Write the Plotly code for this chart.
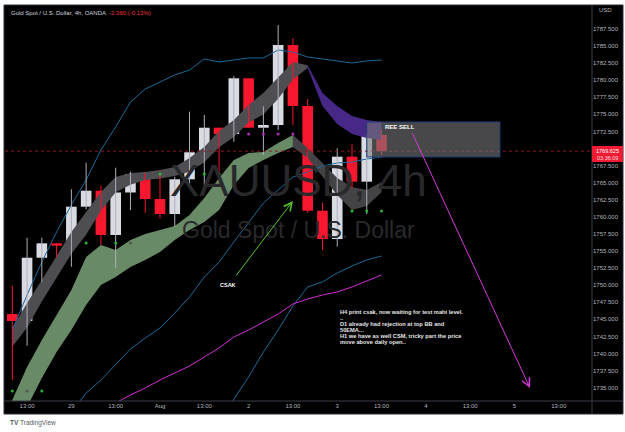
import plotly.graph_objects as go

# ---------------- data ----------------
bars = list(range(26))
opens = [1745.78, 1744.76, 1754.02, 1756.13, 1755.78, 1761.49, 1763.83, 1757.35, 1763.57, 1766.28,
         1762.62, 1760.42, 1765.50, 1769.45, 1773.05, 1772.13, 1780.28, 1773.05, 1773.45, 1785.16,
         1776.23, 1760.90, 1756.76, 1768.81, 1765.15, 1771.98]
closes = [1744.76, 1754.02, 1756.13, 1755.78, 1761.49, 1763.83, 1757.35, 1763.57, 1766.28, 1762.62,
          1760.42, 1765.50, 1769.45, 1773.05, 1772.13, 1780.28, 1773.05, 1773.45, 1785.16, 1776.23,
          1760.90, 1756.76, 1768.81, 1765.15, 1771.98, 1769.625]
highs = [1749.93, 1756.95, 1756.95, 1756.13, 1764.04, 1767.93, 1764.56, 1767.20, 1766.61, 1766.47,
         1766.28, 1765.88, 1775.40, 1774.91, 1773.05, 1780.62, 1780.28, 1776.18, 1788.09, 1786.14,
         1777.25, 1762.08, 1770.04, 1770.67, 1772.00, 1772.72]
lows = [1736.12, 1741.14, 1750.51, 1754.07, 1752.71, 1761.10, 1755.88, 1752.47, 1761.01, 1760.61,
        1759.79, 1758.56, 1764.42, 1764.42, 1765.88, 1771.00, 1773.05, 1769.06, 1772.72, 1773.45,
        1760.61, 1755.15, 1755.64, 1764.18, 1760.42, 1769.06]

bb_upper = [1743.44, 1748.57, 1753.40, 1757.79, 1761.74, 1765.40, 1769.79, 1773.16, 1776.81, 1778.72,
            1779.74, 1780.77, 1781.50, 1783.11, 1782.67, 1782.96, 1783.26, 1783.26, 1784.43, 1784.13,
            1783.40, 1783.11, 1782.82, 1782.52, 1782.82, 1782.96]
bb_lower = [None, None, None, None, 1731.44, 1734.22, 1736.12, 1738.32, 1740.66, 1742.27,
            1743.74, 1745.93, 1748.27, 1751.20, 1753.40, 1756.32, 1759.25, 1762.03, 1763.93, 1765.84,
            1766.57, 1767.45, 1767.89, 1768.03, 1768.47, 1768.76]
bb_lower2 = [None] * 14 + [1729.54, 1733.34, 1736.56, 1740.22, 1743.44, 1746.96, 1749.74, 1750.47,
                           1751.79, 1752.81, 1753.69, 1754.27]
ema_line = [None] * 6 + [1731.44, 1732.76, 1733.93, 1734.95, 1736.12, 1737.15, 1738.17, 1739.49,
                         1740.81, 1742.42, 1743.44, 1744.61, 1745.78, 1747.25, 1747.98, 1748.57,
                         1749.00, 1749.74, 1750.61, 1751.49]

# fast cloud (gray while rising, purple after the cross)
fast_top = [1743.74, 1747.39, 1750.76, 1754.27, 1757.79, 1760.71, 1763.64, 1765.84, 1766.42, 1766.57,
            1766.86, 1767.30, 1768.62, 1770.23, 1772.57, 1774.18, 1776.38, 1778.13, 1780.47, 1782.67,
            1782.20, 1778.13, 1776.23, 1774.77, 1774.18, 1773.89]
fast_bot = [1741.00, 1743.80, 1747.60, 1751.10, 1754.60, 1757.40, 1760.90, 1763.60, 1764.70, 1765.40,
            1765.60, 1766.00, 1766.60, 1768.00, 1770.20, 1771.70, 1773.80, 1775.00, 1777.30, 1780.10,
            1781.80, 1776.23, 1773.59, 1772.13, 1771.55, 1771.25]
# slow cloud (green while rising, gray after)
slow_top = [1733.20, 1738.03, 1741.98, 1745.64, 1749.30, 1754.13, 1755.88, 1755.15, 1756.62, 1757.49,
            1758.08, 1758.67, 1760.28, 1762.76, 1765.69, 1768.33, 1769.35, 1769.50, 1770.81, 1771.98,
            1770.08, 1767.89, 1765.69, 1764.37, 1763.93, 1765.11]
slow_bot = [1728.81, 1732.17, 1736.42, 1740.22, 1743.44, 1747.10, 1750.03, 1751.20, 1752.66, 1753.69,
            1754.86, 1756.62, 1758.08, 1759.25, 1761.01, 1764.67, 1767.15, 1768.33, 1769.35, 1770.23,
            1768.60, 1765.90, 1763.20, 1761.00, 1761.60, 1763.60]

green_dot_x = [0, 2, 5, 7, 10, 13, 14, 23, 24, 25]
green_dot_y = [1734.51, 1734.51, 1756.18, 1756.18, 1766.28, 1766.28, 1766.28, 1760.86, 1760.86, 1760.86]
gray_dot_x = [1, 8]
gray_dot_y = [1734.51, 1756.18]
pink_dot_x = [16, 17, 18, 19]
pink_dot_y = [1772.13, 1772.13, 1772.13, 1772.13]

last_price = 1769.625
zone_x = [24.0, 33.02]
zone_y = [1768.77, 1773.89]

price_ticks = [1735 + 2.5 * i for i in range(22)]
time_tickvals = [1, 4, 7, 10, 13, 16, 19, 22, 25, 28, 31, 34, 37]
time_ticktext = ["13:00", "29", "13:00", "Aug", "13:00", "2", "13:00", "3", "13:00", "4", "13:00", "5", "13:00"]

note_lines = ["H4 print csak, now waiting for test mahi level.", "..",
              "D1 already had rejection at top BB and", "50EMA...",
              "H1 we have as well CSM, tricky part the price", "move above daily open.."]

# ---------------- figure ----------------
W, H = 625, 432
L, R, T, B = 5, 33, 5, 31
PW, PH = W - L - R, H - T - B


def px(X):
    return (X - L) / PW


def py(Y):
    return (H - B - Y) / PH


FONT = "Liberation Sans"
AX = "#b2b5be"
fig = go.Figure()


def cloud(xs, top, bot, color):
    fig.add_trace(go.Scatter(x=xs, y=top, mode="lines", line=dict(width=0), hoverinfo="skip", showlegend=False))
    fig.add_trace(go.Scatter(x=xs, y=bot, mode="lines", line=dict(width=0), fill="tonexty",
                             fillcolor=color, hoverinfo="skip", showlegend=False))


cloud(bars[:20], slow_top[:20], slow_bot[:20], "#698a67")
cloud(bars[19:], slow_top[19:], slow_bot[19:], "#434345")
cloud(bars[:21], fast_top[:21], fast_bot[:21], "#4d4d52")
cloud(bars[20:], fast_top[20:], fast_bot[20:], "#472886")

for ys, col in [(bb_upper, "#1c6a9c"), (bb_lower, "#1c6a9c"), (bb_lower2, "#1c6a9c"), (ema_line, "#d02fd6")]:
    fig.add_trace(go.Scatter(x=bars, y=ys, mode="lines", line=dict(color=col, width=1),
                             hoverinfo="skip", showlegend=False))

# wicks
for up, col in [(True, "#aeb1ba"), (False, "#f7172f")]:
    wx, wy = [], []
    for i, o, c, h, l in zip(bars, opens, closes, highs, lows):
        if (c >= o) == up:
            wx += [i, i, None]
            wy += [l, h, None]
    fig.add_trace(go.Scatter(x=wx, y=wy, mode="lines", line=dict(color=col, width=1),
                             hoverinfo="skip", showlegend=False))

# bodies
for up, col in [(True, "#d9dbe3"), (False, "#f7172f")]:
    bx = [i for i, o, c in zip(bars, opens, closes) if (c >= o) == up]
    bb = [min(o, c) for o, c in zip(opens, closes) if (c >= o) == up]
    bh = [max(abs(c - o), 0.15) for o, c in zip(opens, closes) if (c >= o) == up]
    fig.add_trace(go.Bar(x=bx, y=bh, base=bb, width=0.72, marker=dict(color=col, line=dict(width=0)),
                         hoverinfo="skip", showlegend=False))

for xs, ys, col in [(green_dot_x, green_dot_y, "#2fb52f"), (gray_dot_x, gray_dot_y, "#555555"),
                    (pink_dot_x, pink_dot_y, "#b02fb8")]:
    fig.add_trace(go.Scatter(x=xs, y=ys, mode="markers", marker=dict(color=col, size=3),
                             hoverinfo="skip", showlegend=False))

shapes = [
    dict(type="rect", xref="paper", yref="paper", x0=px(4), x1=px(623), y0=py(414), y1=py(5),
         fillcolor="#000000", line=dict(color="#2a2e39", width=1), layer="below"),
    dict(type="line", xref="paper", yref="paper", x0=1, x1=1, y0=py(414), y1=py(5),
         line=dict(color="#3a3e48", width=1)),
    dict(type="line", xref="paper", yref="paper", x0=px(4), x1=px(623), y0=0, y1=0,
         line=dict(color="#3a3e48", width=1)),
    dict(type="line", xref="paper", yref="y", x0=0, x1=1, y0=last_price, y1=last_price,
         line=dict(color="#8a1c24", width=1, dash="dot")),
    dict(type="rect", xref="x", yref="y", x0=zone_x[0], x1=zone_x[1], y0=zone_y[0], y1=zone_y[1],
         fillcolor="rgba(120,120,124,0.6)", line=dict(color="#1f3d78", width=1)),
    dict(type="rect", xref="paper", yref="paper", x0=1, x1=px(623), y0=py(162), y1=py(146),
         fillcolor="#f01a32", line=dict(width=0)),
]

ann = [
    dict(xref="paper", yref="paper", x=0.5, y=py(180), text="XAUUSD, 4h", showarrow=False,
         font=dict(family=FONT, size=44, color="#29292b"), xanchor="center", yanchor="middle"),
    dict(xref="paper", yref="paper", x=0.5, y=py(230), text="Gold Spot / U.S. Dollar", showarrow=False,
         font=dict(family=FONT, size=23, color="#29292b"), xanchor="center", yanchor="middle"),
    dict(xref="paper", yref="paper", x=px(9), y=py(13), xanchor="left", yanchor="middle", showarrow=False,
         text="Gold Spot / U.S. Dollar, 4h, OANDA  <span style='color:#f23645'>-2.360 (-0.13%)</span>",
         font=dict(family=FONT, size=6, color="#d1d4dc")),
    dict(xref="paper", yref="paper", x=px(597), y=py(10), xanchor="left", yanchor="middle", showarrow=False,
         text="USD", font=dict(family=FONT, size=6, color=AX)),
    dict(xref="paper", yref="paper", x=px(607.5), y=py(150.5), xanchor="center", yanchor="middle", showarrow=False,
         text=f"{last_price:.3f}", font=dict(family=FONT, size=5.5, color="#ffffff")),
    dict(xref="paper", yref="paper", x=px(607.5), y=py(157.8), xanchor="center", yanchor="middle", showarrow=False,
         text="03:36:09", font=dict(family=FONT, size=5.5, color="#ffd6da")),
    dict(xref="x", yref="y", x=25.1, y=1773.11, xanchor="left", yanchor="middle", showarrow=False,
         text="<b>REE SELL</b>", font=dict(family=FONT, size=6, color="#ffffff")),
    dict(xref="x", yref="y", x=35.05, y=1734.95, ax=27.04, ay=1772.47, axref="x", ayref="y", text="",
         showarrow=True, arrowhead=5, arrowsize=1.6, arrowwidth=1, arrowcolor="#d43ad8", standoff=0),
    dict(xref="x", yref="y", x=19.0, y=1762.32, ax=15.08, ay=1751.20, axref="x", ayref="y", text="",
         showarrow=True, arrowhead=5, arrowsize=1.6, arrowwidth=1, arrowcolor="#4fc72a", standoff=0),
    dict(xref="x", yref="y", x=14.6, y=1750.03, xanchor="center", yanchor="middle", showarrow=False,
         text="<b>CSAK</b>", font=dict(family=FONT, size=5.5, color="#ffffff")),
    dict(xref="paper", yref="paper", x=px(8), y=py(423), xanchor="left", yanchor="middle", showarrow=False,
         text="<b>TV</b> TradingView", font=dict(family=FONT, size=6.5, color="#555a66")),
]
for k, line in enumerate(note_lines):
    ann.append(dict(xref="x", yref="y", x=22.05, y=1746.08 - 0.878 * k, xanchor="left", yanchor="middle",
                    showarrow=False, text=f"<b>{line}</b>", font=dict(family=FONT, size=5.7, color="#e6e6e6")))

# the tick hidden behind the last-price label in the reference stays blank
price_ticktext = ["" if abs(v - last_price) < 1.0 else f"{v:.3f}" for v in price_ticks]

fig.update_layout(
    width=W, height=H, margin=dict(l=L, r=R, t=T, b=B, pad=0),
    paper_bgcolor="#ffffff", plot_bgcolor="#000000",
    barmode="overlay", showlegend=False,
    shapes=shapes, annotations=ann,
    xaxis=dict(range=[-0.494, 39.25], showgrid=False, zeroline=False, showline=False,
               tickvals=time_tickvals, ticktext=time_ticktext, ticks="",
               tickfont=dict(family=FONT, size=6, color=AX), fixedrange=True),
    yaxis=dict(range=[1733.05, 1791.01], side="right", showgrid=False, zeroline=False, showline=False,
               tickvals=price_ticks, ticktext=price_ticktext, ticks="",
               tickfont=dict(family=FONT, size=6, color=AX), fixedrange=True),
)

fig.write_html("out.html")
